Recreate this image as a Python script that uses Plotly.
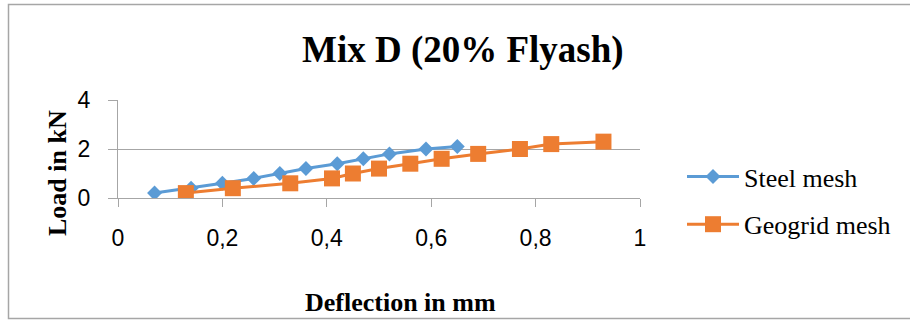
import plotly.graph_objects as go

steel_x = [0.07, 0.14, 0.20, 0.26, 0.31, 0.36, 0.42, 0.47, 0.52, 0.59, 0.65]
steel_y = [0.2, 0.4, 0.6, 0.8, 1.0, 1.2, 1.4, 1.6, 1.8, 2.0, 2.1]
geo_x = [0.13, 0.22, 0.33, 0.41, 0.45, 0.50, 0.56, 0.62, 0.69, 0.77, 0.83, 0.93]
geo_y = [0.2, 0.4, 0.6, 0.8, 1.0, 1.2, 1.4, 1.6, 1.8, 2.0, 2.2, 2.3]
x_ticks = [0, 0.2, 0.4, 0.6, 0.8, 1.0]
y_ticks = [0, 2, 4]

SERIF = "Liberation Serif, Times New Roman, serif"
SANS = "Liberation Sans, Arial, sans-serif"

fig = go.Figure()
fig.add_trace(go.Scatter(x=steel_x, y=steel_y, mode="lines+markers", name="Steel mesh",
                         legendgroup="a",
                         line=dict(color="#5B9BD5", width=3),
                         marker=dict(symbol="diamond", size=11.5, color="#5B9BD5")))
fig.add_trace(go.Scatter(x=geo_x, y=geo_y, mode="lines+markers", name="Geogrid mesh",
                         legendgroup="b",
                         line=dict(color="#ED7D31", width=3),
                         marker=dict(symbol="square", size=16, color="#ED7D31")))

L, R, T, B = 118, 640, 100, 198
W, H = 910, 320
pw, ph = R - L, B - T

def px(x):
    return (x - L) / pw

def py(y):
    return (B - y) / ph

fig.update_layout(
    width=W, height=H,
    margin=dict(l=L, r=W - R, t=T, b=H - B, pad=0),
    paper_bgcolor="white", plot_bgcolor="white",
    separators=", ",
    showlegend=True,
    legend=dict(x=px(682), y=py(153), xanchor="left", yanchor="top",
                font=dict(family=SERIF, size=26, color="#000000"),
                tracegroupgap=11, itemwidth=52, bgcolor="rgba(0,0,0,0)"),
    xaxis=dict(range=[0, 1], tickvals=x_ticks, showgrid=False, zeroline=False,
               showline=True, linecolor="#A6A6A6", linewidth=1,
               ticks="outside", ticklen=8, tickcolor="#A6A6A6",
               tickfont=dict(family=SANS, size=23, color="#000000"),
               ticklabelstandoff=11, fixedrange=True),
    yaxis=dict(range=[0, 4], tickvals=y_ticks, showgrid=True, gridcolor="#A6A6A6",
               gridwidth=1, zeroline=False, showline=True, linecolor="#A6A6A6",
               ticks="outside", ticklen=9, tickcolor="#A6A6A6",
               tickfont=dict(family=SANS, size=23, color="#000000"),
               ticklabelstandoff=13, fixedrange=True),
    shapes=[dict(type="rect", xref="paper", yref="paper",
                 x0=px(8.5), x1=px(915), y0=py(318.5), y1=py(4.5),
                 line=dict(color="#A6A6A6", width=1.5), layer="below")],
    annotations=[
        dict(text="<b>Mix D (20% Flyash)</b>", xref="paper", yref="paper",
             x=px(463), y=py(50), xanchor="center", yanchor="middle", showarrow=False,
             font=dict(family=SERIF, size=37, color="#000000")),
        dict(text="<b>Deflection in mm</b>", xref="paper", yref="paper",
             x=px(400), y=py(302), xanchor="center", yanchor="middle", showarrow=False,
             font=dict(family=SERIF, size=26, color="#000000")),
        dict(text="<b>Load in kN</b>", xref="paper", yref="paper",
             x=px(57), y=py(173), xanchor="center", yanchor="middle", showarrow=False,
             textangle=-90,
             font=dict(family=SERIF, size=26, color="#000000")),
    ],
)

fig.write_html("out.html")
